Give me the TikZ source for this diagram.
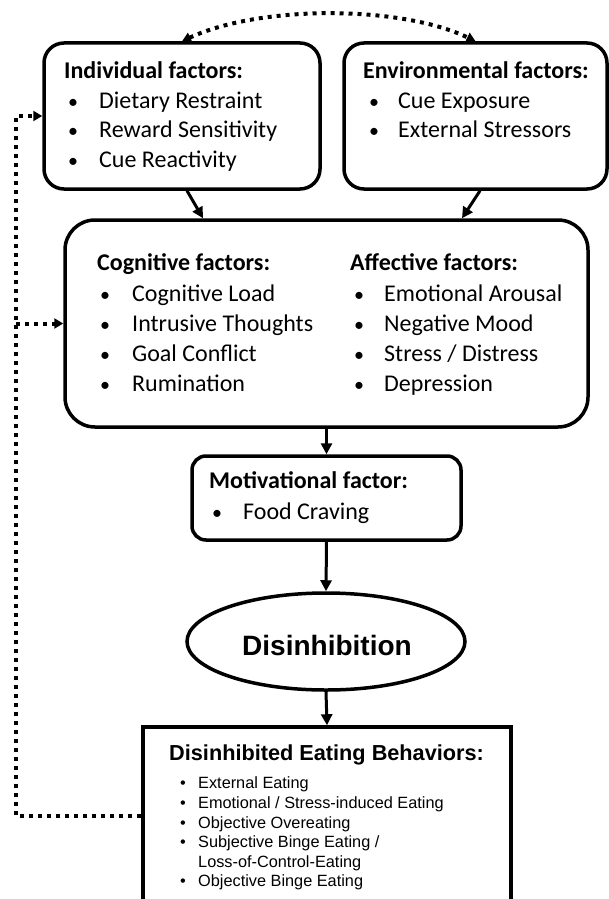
\documentclass[tikz,border=0pt]{standalone}
\usepackage{fontspec}
\newfontfamily\calfont{Carlito}
\newfontfamily\arifont{Liberation Sans}
\usetikzlibrary{arrows.meta,shapes.geometric,calc}
\begin{document}
\begin{tikzpicture}[x=1pt,y=-1pt,
  box/.style={draw,line width=3.5pt,rounded corners=#1,inner sep=0pt},
  txt/.style={anchor=base west,inner sep=0pt,font=\calfont\fontsize{24}{29}\selectfont},
  bul/.style={anchor=base west,inner sep=0pt,font=\calfont\fontsize{20}{29}\selectfont},
  bld/.style={anchor=base west,inner sep=0pt,font=\calfont\bfseries\fontsize{24}{29}\selectfont},
  stxt/.style={anchor=base west,inner sep=0pt,font=\arifont\fontsize{16.3}{19.7}\selectfont},
  arr/.style={line width=3pt,-{Triangle[length=11pt,width=11pt]}},
  dotline/.style={line width=4pt,dash pattern=on 4pt off 5pt},
  dotarr/.style={dotline,-{Triangle[length=9pt,width=10pt]}}
]
\useasboundingbox (0,0) rectangle (609,899);

% boxes
\node[box=20pt,minimum width=276pt,minimum height=146pt] (ind) at (182,116) {};
\node[box=20pt,minimum width=263pt,minimum height=146pt] (env) at (475.5,116) {};
\node[box=30pt,minimum width=523pt,minimum height=207pt] (cog) at (326.5,323.5) {};
\node[box=14pt,minimum width=269pt,minimum height=84pt] (mot) at (326.5,498) {};
\node[draw,line width=3.5pt,ellipse,minimum width=278pt,minimum height=97pt,inner sep=0pt] (dis) at (326,641.5) {};
\node[draw,line width=3.5pt,minimum width=368pt,minimum height=178pt,inner sep=0pt] (beh) at (327,816) {};

% individual factors
\node[bld] (indt) at (64,78) {Individual factors:};
\foreach \y/\t [count=\i] in {108/{Dietary Restraint},137/{Reward Sensitivity},167/{Cue Reactivity}}{
  \node[bul] (indb\i) at (68,\y) {•};
  \node[txt] (indi\i) at (99,\y) {\t};
}
% environmental factors
\node[bld] (envt) at (363,78) {Environmental factors:};
\foreach \y/\t [count=\i] in {108/{Cue Exposure},137/{External Stressors}}{
  \node[bul] (envb\i) at (369,\y) {•};
  \node[txt] (envi\i) at (398,\y) {\t};
}
% cognitive factors
\node[bld] (cogt) at (97,270) {Cognitive factors:};
\foreach \y/\t [count=\i] in {301/{Cognitive Load},331/{Intrusive Thoughts},361/{Goal Conflict},391/{Rumination}}{
  \node[bul] (cogb\i) at (100,\y) {•};
  \node[txt] (cogi\i) at (132,\y) {\t};
}
% affective factors
\node[bld] (afft) at (350,270) {Affective factors:};
\foreach \y/\t [count=\i] in {301/{Emotional Arousal},331/{Negative Mood},361/{Stress / Distress},391/{Depression}}{
  \node[bul] (affb\i) at (354,\y) {•};
  \node[txt] (affi\i) at (384,\y) {\t};
}
% motivational factor
\node[bld] (mott) at (209,488) {Motivational factor:};
\node[bul] (motb1) at (212,519) {•};
\node[txt] (moti1) at (243,519) {Food Craving};

% disinhibition
\node[anchor=base,inner sep=0pt,font=\arifont\bfseries\fontsize{28}{32}\selectfont] (dist) at (327,655) {Disinhibition};

% behaviors
\node[anchor=base west,inner sep=0pt,font=\arifont\bfseries\fontsize{21.7}{25}\selectfont] (beht) at (169,760) {Disinhibited Eating Behaviors:};
\foreach \y/\t [count=\i] in {788/{External Eating},808/{Emotional / Stress-induced Eating},828/{Objective Overeating},847/{Subjective Binge Eating /},886/{Objective Binge Eating}}{
  \node[stxt] (behb\i) at (180,\y) {•};
  \node[stxt] (behi\i) at (198,\y) {\t};
}
\node[stxt] (behc) at (198,867) {Loss-of-Control-Eating};

% connectors
\draw[arr] ([xshift=5pt]ind.south) -- ([xshift=-123.5pt]cog.north);
\draw[arr] ([xshift=4.5pt]env.south) -- ([xshift=135.5pt]cog.north);
\draw[arr] (cog.south) -- (mot.north);
\draw[arr] (mot.south) -- (dis.north);
\draw[arr] (dis.south) -- (beh.north);

\draw[dotline,{Triangle[length=9pt,width=10pt]}-{Triangle[length=9pt,width=10pt]}]
  (ind.north) .. controls (260,5) and (400,5) .. (env.north);

\coordinate (fbtop) at (16,116);
\draw[dotarr] (beh.west) -| (fbtop) -- (ind.west);
\draw[dotarr] (cog.west -| fbtop) -- (cog.west);
\end{tikzpicture}
\end{document}
